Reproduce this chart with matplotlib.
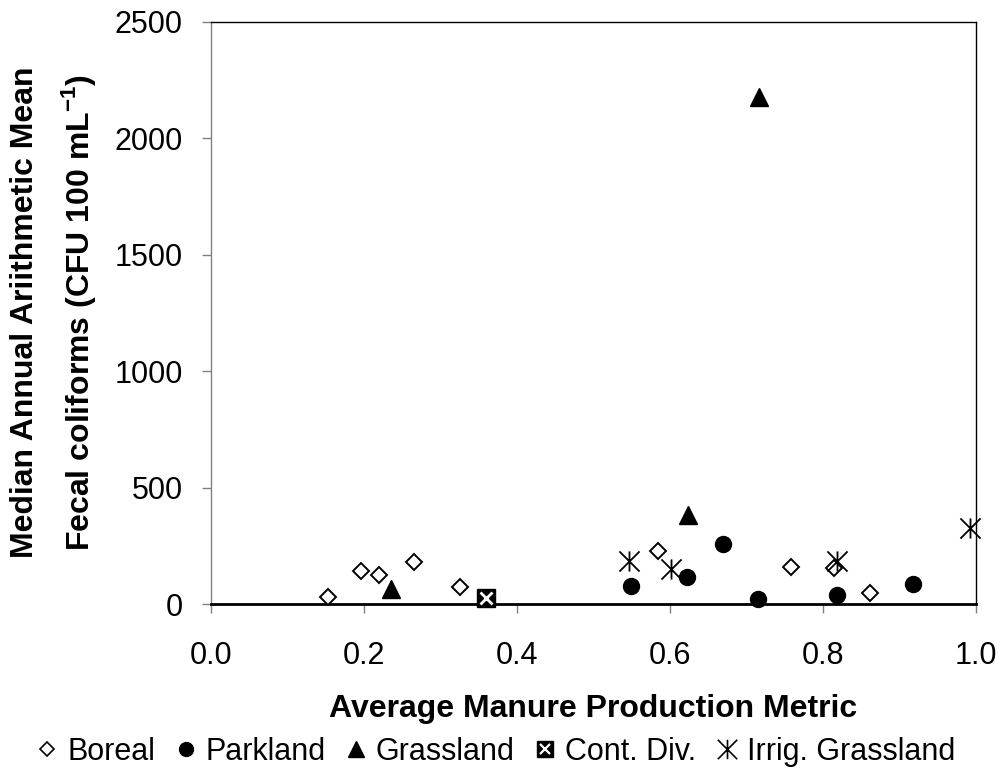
import matplotlib
matplotlib.use("Agg")
import matplotlib.pyplot as plt
from matplotlib.path import Path
from matplotlib.lines import Line2D
from matplotlib.legend_handler import HandlerTuple

plt.rcParams['font.family'] = ['Liberation Sans', 'DejaVu Sans']
plt.rcParams['mathtext.fontset'] = 'custom'
plt.rcParams['mathtext.rm'] = 'Liberation Sans'
plt.rcParams['mathtext.bf'] = 'Liberation Sans:bold'

# ---- data ----
boreal_x = [0.153, 0.196, 0.220, 0.266, 0.326, 0.585, 0.758, 0.815, 0.862]
boreal_y = [33, 144, 126, 180, 75, 230, 161, 154, 50]
parkland_x = [0.549, 0.623, 0.670, 0.715, 0.819, 0.918]
parkland_y = [78, 116, 260, 21, 39, 87]
grassland_x = [0.235, 0.624, 0.716]
grassland_y = [65, 383, 2175]
contdiv_x = [0.360]
contdiv_y = [26]
irrig_x = [0.546, 0.601, 0.818, 0.992]
irrig_y = [186, 150, 186, 326]

x_ticks = [0.0, 0.2, 0.4, 0.6, 0.8, 1.0]
y_ticks = [0, 500, 1000, 1500, 2000, 2500]
x_label = "Average Manure Production Metric"
y_label = "Median Annual Ariithmetic Mean\nFecal coliforms (CFU 100 mL$^{\\mathbf{-1}}$)"
legend_labels = ["Boreal", "Parkland", "Grassland", "Cont. Div.", "Irrig. Grassland"]

# asterisk marker: vertical bar + X
ast_path = Path([(0, -1), (0, 1), (-1, -1), (1, 1), (-1, 1), (1, -1)],
                [Path.MOVETO, Path.LINETO, Path.MOVETO, Path.LINETO, Path.MOVETO, Path.LINETO])

fig = plt.figure(figsize=(10, 7.68), dpi=100)
ax = fig.add_axes([0.2107, 0.2131, 0.976 - 0.2107, 0.9717 - 0.2131])

ax.plot(boreal_x, boreal_y, ls='none', marker='D', ms=8, mfc='white', mec='black', mew=1.4, clip_on=False, zorder=3)
ax.plot(parkland_x, parkland_y, ls='none', marker='o', ms=11.5, mfc='black', mec='black', clip_on=False, zorder=3)
ax.plot(grassland_x, grassland_y, ls='none', marker='^', ms=12.5, mfc='black', mec='black', clip_on=False, zorder=3)
ax.plot(contdiv_x, contdiv_y, ls='none', marker='s', ms=13, mfc='black', mec='black', clip_on=False, zorder=4)
ax.plot(contdiv_x, contdiv_y, ls='none', marker='x', ms=9, mec='white', mew=2, clip_on=False, zorder=5)
ax.plot(irrig_x, irrig_y, ls='none', marker=ast_path, ms=14.5, mec='black', mew=1.3, clip_on=False, zorder=3)

ax.set_xlim(0, 1)
ax.set_ylim(0, 2500)
ax.set_xticks(x_ticks)
ax.set_xticklabels([f"{v:.1f}" for v in x_ticks])
ax.set_yticks(y_ticks)
ax.set_yticklabels([str(v) for v in y_ticks])
ax.tick_params(direction='out', length=6.5, width=1, color='#808080', labelsize=22)
ax.tick_params(axis='y', pad=13.5)
ax.tick_params(axis='x', pad=20)

for s in ['top', 'right']:
    ax.spines[s].set_color('black')
    ax.spines[s].set_linewidth(1.0)
ax.spines['left'].set_color('#808080')
ax.spines['left'].set_linewidth(1.0)
ax.spines['bottom'].set_color('black')
ax.spines['bottom'].set_linewidth(2.0)
ax.spines['bottom'].set_zorder(2.5)

fig.text(0.5935, 1 - 717 / 768, x_label, fontsize=23, fontweight='bold', ha='center', va='baseline')
fig.text(0.054, 1 - 312 / 768, y_label, fontsize=23, fontweight='bold', rotation=90,
         ha='center', va='center', multialignment='center', linespacing=1.65)

# legend
lh_b = Line2D([], [], ls='none', marker='D', ms=7, mfc='white', mec='black', mew=1.2)
lh_p = Line2D([], [], ls='none', marker='o', ms=10, mfc='black', mec='black')
lh_g = Line2D([], [], ls='none', marker='^', ms=11, mfc='black', mec='black')
lh_c1 = Line2D([], [], ls='none', marker='s', ms=11, mfc='black', mec='black')
lh_c2 = Line2D([], [], ls='none', marker='x', ms=7.5, mec='white', mew=1.6)
lh_i = Line2D([], [], ls='none', marker=ast_path, ms=14, mec='black', mew=1.2)
fig.legend([lh_b, lh_p, lh_g, (lh_c1, lh_c2), lh_i], legend_labels,
           handler_map={tuple: HandlerTuple(ndivide=1, pad=0)},
           loc='center', bbox_to_anchor=(0.495, 1 - 752 / 768), ncol=5, frameon=False,
           fontsize=22, handlelength=0.8, handletextpad=0.25, columnspacing=0.6,
           borderaxespad=0, borderpad=0)

fig.savefig("out.png", dpi=100)
